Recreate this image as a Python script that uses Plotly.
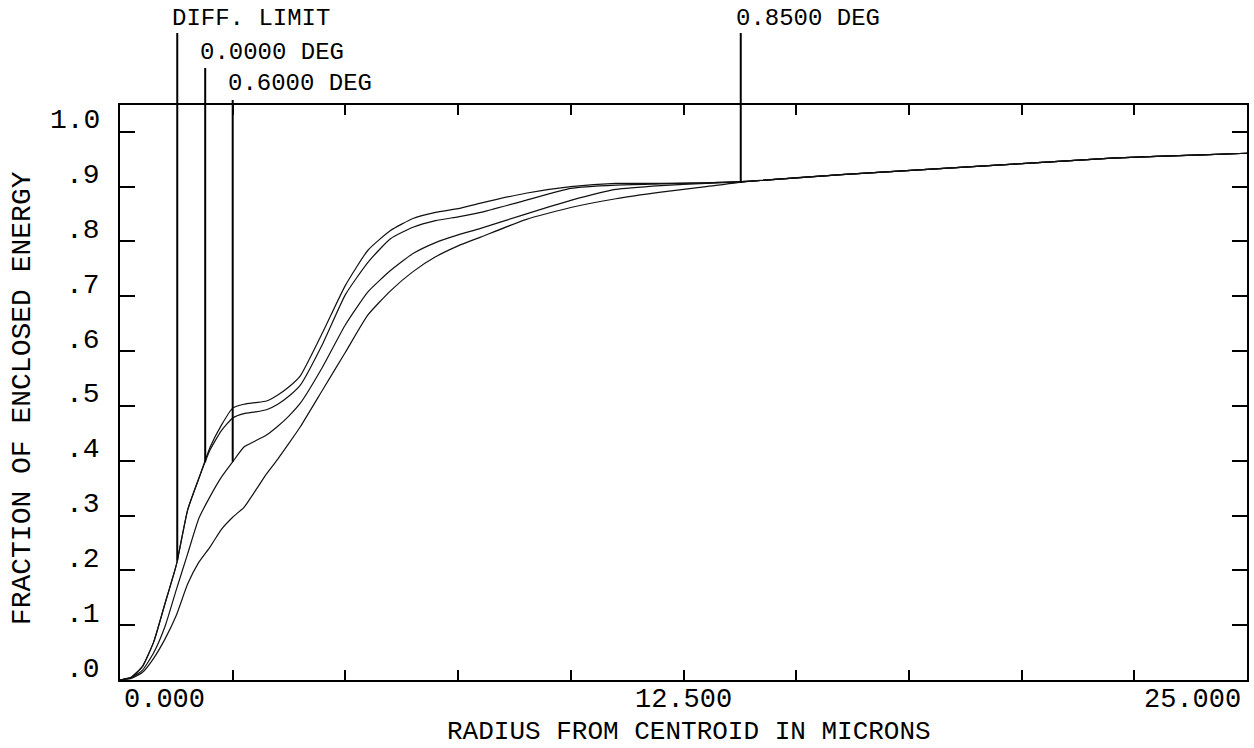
import numpy as np
import plotly.graph_objects as go

# ---------------- data ----------------
radius = [0, 0.25, 0.5, 0.75, 1.0, 1.25, 1.5, 1.75, 2.0, 2.25, 2.5, 2.75, 3.0, 3.25,
          3.5, 3.75, 4.0, 4.5, 5.0, 5.5, 6.0, 6.5, 7.0, 7.5, 8.0, 9.0, 10.0, 11.0,
          12.0, 13.0, 14.0, 16.0, 18.0, 20.0, 22.0, 24.0, 25.0]

diff_limit = [0, 0.005, 0.025, 0.07, 0.14, 0.21, 0.31, 0.368, 0.425, 0.465, 0.496,
              0.503, 0.506, 0.509, 0.52, 0.535, 0.555, 0.635, 0.72, 0.784, 0.82,
              0.842, 0.853, 0.86, 0.87, 0.888, 0.90, 0.906, 0.906, 0.907, 0.91,
              0.922, 0.932, 0.942, 0.952, 0.958, 0.961]

deg_0000 = [0, 0.005, 0.025, 0.07, 0.14, 0.21, 0.31, 0.368, 0.42, 0.455, 0.478,
            0.486, 0.489, 0.493, 0.503, 0.518, 0.538, 0.614, 0.703, 0.762, 0.805,
            0.826, 0.838, 0.845, 0.853, 0.875, 0.897, 0.903, 0.905, 0.907, 0.91,
            0.922, 0.932, 0.942, 0.952, 0.958, 0.961]

deg_0600 = [0, 0.004, 0.018, 0.05, 0.098, 0.165, 0.23, 0.295, 0.335, 0.37, 0.398,
            0.425, 0.436, 0.447, 0.463, 0.482, 0.505, 0.572, 0.648, 0.708, 0.747,
            0.778, 0.798, 0.812, 0.824, 0.85, 0.875, 0.895, 0.902, 0.906, 0.91,
            0.922, 0.932, 0.942, 0.952, 0.958, 0.961]

deg_0850 = [0, 0.003, 0.014, 0.04, 0.075, 0.118, 0.175, 0.215, 0.243, 0.275, 0.297,
            0.315, 0.345, 0.376, 0.403, 0.432, 0.462, 0.53, 0.598, 0.666, 0.71,
            0.745, 0.772, 0.792, 0.808, 0.84, 0.862, 0.878, 0.89, 0.90, 0.91,
            0.922, 0.932, 0.942, 0.952, 0.958, 0.961]

series_names = ["DIFF. LIMIT", "0.0000 DEG", "0.6000 DEG", "0.8500 DEG"]
series_values = [diff_limit, deg_0000, deg_0600, deg_0850]
marker_radius = [1.27, 1.89, 2.5, 13.77]

x_tickvals = [0, 2.5, 5, 7.5, 10, 12.5, 15, 17.5, 20, 22.5, 25]
x_labelvals = [0, 12.5, 25]
x_labeltext = ["0.000", "12.500", "25.000"]
y_tickvals = [0, 0.1, 0.2, 0.3, 0.4, 0.5, 0.6, 0.7, 0.8, 0.9, 1.0]
y_ticktext = [".0", ".1", ".2", ".3", ".4", ".5", ".6", ".7", ".8", ".9", "1.0"]

# ---------------- layout constants ----------------
W, H = 1254, 748
ML, MR, MT, MB = 120, 5, 105, 68
PH = H - MT - MB
PW = W - ML - MR
YMAX = 1.049
FONT = "Liberation Mono"
FS_AXIS = 28
FS_XTICK = 27
FS_TITLE = 26
FS_LABEL = 24
label_top_px = [33, 68, 100, 33]     # top of marker lines (page pixels)
label_text_px = [18, 52, 84, 18]     # label centre (page pixels)


def px_to_paper(py):
    return (H - MB - py) / PH


fig = go.Figure()
for name, vals in zip(series_names, series_values):
    fig.add_trace(go.Scatter(x=radius, y=vals, mode="lines", name=name,
                             line=dict(color="#111111", width=1.2,
                                       shape="spline", smoothing=0.5),
                             hoverinfo="skip"))

shapes = []
annotations = []
for i, (name, r) in enumerate(zip(series_names, marker_radius)):
    v = float(np.interp(r, radius, series_values[i]))
    shapes.append(dict(type="line", xref="x", yref="paper",
                       x0=r, x1=r, y0=v / YMAX, y1=px_to_paper(label_top_px[i]),
                       line=dict(color="black", width=2)))
    annotations.append(dict(text=name, xref="x", yref="paper", x=r,
                            y=px_to_paper(label_text_px[i]), xanchor="left",
                            yanchor="middle", xshift=-7, showarrow=False,
                            font=dict(family=FONT, size=FS_LABEL, color="black")))

# y tick labels
for v, t in zip(y_tickvals, y_ticktext):
    annotations.append(dict(text=t, xref="paper", yref="y", x=0, y=v,
                            xanchor="right", yanchor="middle", xshift=-18,
                            yshift=11, showarrow=False,
                            font=dict(family=FONT, size=FS_AXIS, color="black")))

# x tick labels
anchors = ["left", "center", "right"]
shifts = [2, 0, -4]
for v, t, a, s in zip(x_labelvals, x_labeltext, anchors, shifts):
    annotations.append(dict(text=t, xref="x", yref="paper", x=v,
                            y=px_to_paper(700), xanchor=a, yanchor="middle",
                            xshift=s, showarrow=False,
                            font=dict(family=FONT, size=FS_XTICK, color="black")))

# axis titles
annotations.append(dict(text="RADIUS FROM CENTROID IN MICRONS", xref="paper",
                        yref="paper", x=(690 - ML) / PW,
                        y=px_to_paper(732), xanchor="center", yanchor="middle",
                        showarrow=False,
                        font=dict(family=FONT, size=FS_TITLE, color="black")))
annotations.append(dict(text="FRACTION OF ENCLOSED ENERGY", xref="paper",
                        yref="paper", x=(22 - ML) / PW,
                        y=px_to_paper(398), xanchor="center", yanchor="middle",
                        textangle=-90, showarrow=False,
                        font=dict(family=FONT, size=FS_AXIS, color="black")))

axis_common = dict(showgrid=False, zeroline=False, showline=True, linewidth=2,
                   linecolor="black", mirror="ticks", ticks="inside",
                   tickwidth=2, tickcolor="black", showticklabels=False,
                   fixedrange=True)

fig.update_layout(
    width=W, height=H, autosize=False,
    margin=dict(l=ML, r=MR, t=MT, b=MB, pad=0),
    plot_bgcolor="white", paper_bgcolor="white",
    showlegend=False,
    font=dict(family=FONT, size=FS_AXIS, color="black"),
    xaxis=dict(range=[0, 25], tickmode="array", tickvals=x_tickvals, ticklen=10,
               **axis_common),
    yaxis=dict(range=[0, YMAX], tickmode="array", tickvals=y_tickvals, ticklen=15,
               **axis_common),
    shapes=shapes,
    annotations=annotations,
)

fig.write_html("out.html", config={"displayModeBar": False},
               post_script="document.body.style.margin='0';document.body.style.overflow='hidden';")
